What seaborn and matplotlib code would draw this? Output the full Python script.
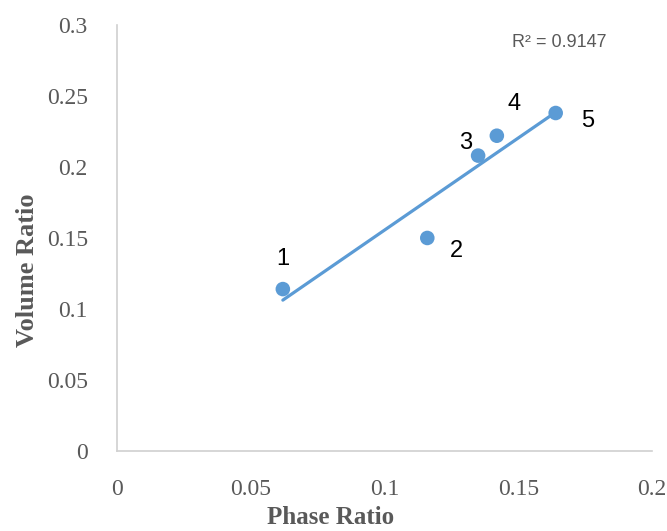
import numpy as np
import pandas as pd
import matplotlib
matplotlib.use("Agg")
import matplotlib.pyplot as plt
import seaborn as sns

# values
phase_ratio = [0.062, 0.116, 0.135, 0.142, 0.164]
volume_ratio = [0.114, 0.150, 0.208, 0.222, 0.238]
point_labels = ["1", "2", "3", "4", "5"]
x_ticks = [0, 0.05, 0.1, 0.15, 0.2]
x_tick_labels = ["0", "0.05", "0.1", "0.15", "0.2"]
y_ticks = [0, 0.05, 0.1, 0.15, 0.2, 0.25, 0.3]
y_tick_labels = ["0", "0.05", "0.1", "0.15", "0.2", "0.25", "0.3"]
r2_text = "R² = 0.9147"

df = pd.DataFrame({"Phase Ratio": phase_ratio, "Volume Ratio": volume_ratio})

sns.set_style("white")
blue = "#5B9BD5"
grey = "#595959"

fig = plt.figure(figsize=(6.67, 5.31), dpi=100)
ax = fig.add_axes([0.1754, 0.1507, 0.8021, 0.8023])

# linear trend line over the data range
slope, intercept = np.polyfit(df["Phase Ratio"], df["Volume Ratio"], 1)
xs = np.array([df["Phase Ratio"].min(), df["Phase Ratio"].max()])
ax.plot(xs, slope * xs + intercept, color=blue, lw=2.3, zorder=2)

sns.scatterplot(data=df, x="Phase Ratio", y="Volume Ratio", ax=ax,
                color=blue, s=110, edgecolor="none", zorder=3)

offsets = [(0, 30), (29, -13), (-12, 13), (17, 32), (32, -8)]
for x, y, lab, off in zip(phase_ratio, volume_ratio, point_labels, offsets):
    ax.annotate(lab, (x, y), xytext=off, textcoords="offset pixels",
                ha="center", va="center", fontsize=17,
                family="Liberation Sans", color="black")

ax.text(0.1652, 0.2873, r2_text, ha="center", va="center", fontsize=13,
        family="Liberation Sans", color=grey)

ax.set_xlim(0, 0.2)
ax.set_ylim(0, 0.3)
ax.set_xticks(x_ticks)
ax.set_xticklabels(x_tick_labels)
ax.set_yticks(y_ticks)
ax.set_yticklabels(y_tick_labels)
ax.tick_params(length=0, labelsize=17, colors=grey)
ax.tick_params(axis="x", pad=20)
ax.tick_params(axis="y", pad=21)
for t in ax.get_xticklabels() + ax.get_yticklabels():
    t.set_family("Liberation Serif")

ax.set_xlabel("Phase Ratio", fontsize=18, fontweight="bold",
              family="Liberation Serif", color=grey)
ax.set_ylabel("Volume Ratio", fontsize=19, fontweight="bold",
              family="Liberation Serif", color=grey)
ax.xaxis.set_label_coords(0.4, -0.157)
ax.xaxis.label.set_va("center")
ax.yaxis.set_label_coords(-0.167, 0.425)
ax.yaxis.label.set_va("center")

for side in ["top", "right"]:
    ax.spines[side].set_visible(False)
for side in ["left", "bottom"]:
    ax.spines[side].set_color("#d0d0d0")
    ax.spines[side].set_linewidth(1.2)

fig.savefig("out.png", dpi=100)
plt.close(fig)
